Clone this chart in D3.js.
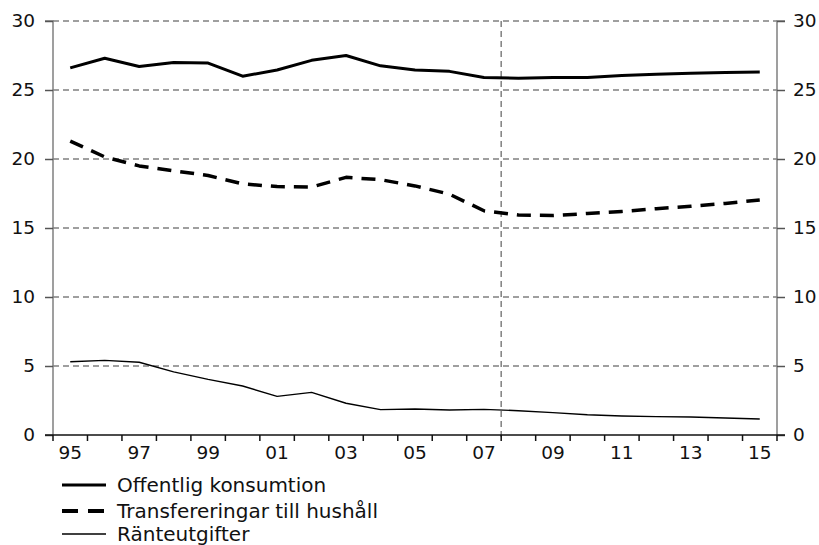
<!DOCTYPE html>
<html>
<head>
<meta charset="utf-8">
<script src="https://cdn.jsdelivr.net/npm/d3@7"></script>
<style>
  html, body { margin: 0; padding: 0; background: #fff; }
  svg { display: block; font-family: "DejaVu Sans", Verdana, sans-serif; }
</style>
</head>
<body>
<svg id="chart" width="819" height="545"></svg>
<script>
// Years 1995–2015, shown with two-digit labels
const years = d3.range(1995, 2016);
const yearLabels = ["95","96","97","98","99","00","01","02","03","04","05","06","07","08","09","10","11","12","13","14","15"];

// Share of GDP, per cent
const offentligKonsumtion = [26.6, 27.3, 26.7, 27.0, 26.95, 26.0, 26.45, 27.15, 27.5, 26.75, 26.45, 26.35, 25.9, 25.85, 25.9, 25.9, 26.05, 26.15, 26.22, 26.27, 26.3];
const transfereringar = [21.3, 20.15, 19.5, 19.15, 18.8, 18.2, 18.0, 17.97, 18.67, 18.5, 18.05, 17.45, 16.25, 15.94, 15.9, 16.05, 16.2, 16.4, 16.57, 16.78, 17.03];
const ranteutgifter = [5.31, 5.41, 5.27, 4.57, 4.03, 3.55, 2.8, 3.09, 2.3, 1.84, 1.88, 1.81, 1.86, 1.76, 1.62, 1.47, 1.38, 1.33, 1.3, 1.23, 1.16];

const yTicks = [0, 5, 10, 15, 20, 25, 30];
const forecastStart = 2008;

const seriesNames = ["Offentlig konsumtion", "Transfereringar till hushåll", "Ränteutgifter"];
const seriesValues = [offentligKonsumtion, transfereringar, ranteutgifter];
const seriesStyle = [
  { width: 3, dash: null },
  { width: 3.5, dash: "14,9" },
  { width: 1.4, dash: null }
];

const svg = d3.select("#chart");
const plotLeft = 53, plotRight = 777, plotTop = 21, plotBottom = 435;

const x = d3.scaleBand().domain(years).range([plotLeft, plotRight]).padding(0);
const y = d3.scaleLinear().domain([0, 30]).range([plotBottom, plotTop]);
const cx = yr => x(yr) + x.bandwidth() / 2;

const gridColor = "#808080";

// Horizontal dashed grid lines
svg.append("g")
  .selectAll("line")
  .data(yTicks.filter(v => v > 0))
  .join("line")
  .attr("x1", plotLeft).attr("x2", plotRight)
  .attr("y1", d => y(d)).attr("y2", d => y(d))
  .attr("stroke", gridColor)
  .attr("stroke-width", 1.5)
  .attr("stroke-dasharray", "6,4");

// Vertical dashed line marking the start of the forecast
svg.append("line")
  .attr("x1", x(forecastStart)).attr("x2", x(forecastStart))
  .attr("y1", plotTop).attr("y2", plotBottom + 6)
  .attr("stroke", gridColor)
  .attr("stroke-width", 1.5)
  .attr("stroke-dasharray", "6,4");

// Left and right value axes
const axisLeft = d3.axisLeft(y).tickValues(yTicks).tickSize(8).tickPadding(10).tickFormat(d3.format("d"));
const axisRight = d3.axisRight(y).tickValues(yTicks).tickSize(8).tickPadding(8).tickFormat(d3.format("d"));

function styleAxis(g) {
  g.select(".domain").attr("stroke", gridColor).attr("stroke-width", 1.5);
  g.selectAll(".tick line").attr("stroke", "#555").attr("stroke-width", 1.5);
  g.selectAll(".tick text").attr("fill", "#111").style("font-size", "18.5px")
    .style("font-family", "'DejaVu Sans', Verdana, sans-serif");
}

svg.append("g").attr("transform", `translate(${plotLeft},0)`).call(axisLeft).call(g => {
  g.select(".domain").attr("d", `M-8,${plotTop}H0V${plotBottom}`);
  styleAxis(g);
});
svg.append("g").attr("transform", `translate(${plotRight},0)`).call(axisRight).call(g => {
  g.select(".domain").attr("d", `M8,${plotTop}H0V${plotBottom}`);
  styleAxis(g);
});

// Bottom axis: tick marks on year boundaries, labels for every other year
const boundaries = years.map(yr => x(yr)).concat([plotRight]);
svg.append("g")
  .selectAll("line")
  .data(boundaries)
  .join("line")
  .attr("x1", d => d).attr("x2", d => d)
  .attr("y1", plotBottom).attr("y2", plotBottom + 6)
  .attr("stroke", "#111").attr("stroke-width", 1.5);

svg.append("line")
  .attr("x1", plotLeft - 8).attr("x2", plotRight + 8)
  .attr("y1", plotBottom).attr("y2", plotBottom)
  .attr("stroke", "#111").attr("stroke-width", 1.5);

const labelYears = years.filter((yr, i) => i % 2 === 0);
const axisBottom = d3.axisBottom(x)
  .tickValues(labelYears)
  .tickSize(0)
  .tickPadding(11)
  .tickFormat(yr => yearLabels[years.indexOf(yr)]);
svg.append("g").attr("transform", `translate(0,${plotBottom})`).call(axisBottom).call(g => {
  g.select(".domain").remove();
  g.selectAll(".tick text").attr("fill", "#111").style("font-size", "18.5px")
    .style("font-family", "'DejaVu Sans', Verdana, sans-serif");
});

// Data lines
const line = d3.line().x((d, i) => cx(years[i])).y(d => y(d));
seriesValues.forEach((vals, k) => {
  svg.append("path")
    .datum(vals)
    .attr("d", line)
    .attr("fill", "none")
    .attr("stroke", "#000")
    .attr("stroke-width", seriesStyle[k].width)
    .attr("stroke-dasharray", seriesStyle[k].dash)
    .attr("stroke-linejoin", "round");
});

// Legend
const legendY = [485, 511, 534];
const legendDash = [null, "16,10", null];
const legendWidth = [3, 4, 1.4];
const legend = svg.append("g");
seriesNames.forEach((name, k) => {
  legend.append("line")
    .attr("x1", 62).attr("x2", 106)
    .attr("y1", legendY[k]).attr("y2", legendY[k])
    .attr("stroke", "#000")
    .attr("stroke-width", legendWidth[k])
    .attr("stroke-dasharray", legendDash[k]);
  legend.append("text")
    .attr("x", 117).attr("y", legendY[k] + 7)
    .attr("fill", "#111")
    .style("font-size", "20px")
    .text(name);
});
</script>
</body>
</html>
